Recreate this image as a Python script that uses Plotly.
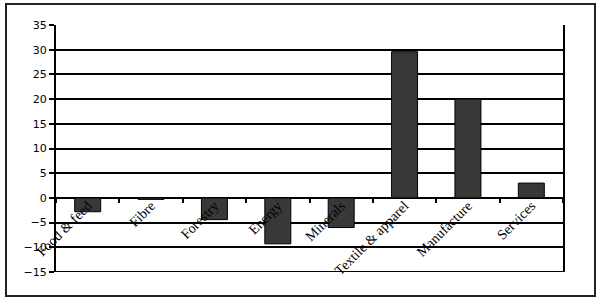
import plotly.graph_objects as go

categories = ["Food & feed", "Fibre", "Forestry", "Energy", "Minerals",
              "Textile & apparel", "Manufacture", "Services"]
values = [-2.8, -0.3, -4.4, -9.3, -6.0, 29.6, 20.0, 3.0]
y_ticks = [-15, -10, -5, 0, 5, 10, 15, 20, 25, 30, 35]

L, R, T, B = 56, 37, 25, 29
W, H = 600, 301
pw, ph = W - L - R, H - T - B

fig = go.Figure(go.Bar(
    x=categories, y=values, width=0.41,
    marker=dict(color="#383838", line=dict(color="black", width=1)),
))

fig.update_layout(
    width=W, height=H,
    margin=dict(l=L, r=R, t=T, b=B),
    paper_bgcolor="white", plot_bgcolor="white",
    showlegend=False,
    xaxis=dict(
        anchor="free", position=(0 - y_ticks[0]) / (y_ticks[-1] - y_ticks[0]),
        tickangle=-45, ticks="outside", ticklen=4, tickcolor="black", tickwidth=1.5,
        tickson="boundaries", showgrid=False, showline=False,
        ticklabelstandoff=-4,
        tickfont=dict(family="Liberation Serif", size=14, color="black"),
    ),
    yaxis=dict(
        range=[y_ticks[0], y_ticks[-1]], tickvals=y_ticks,
        ticks="outside", ticklen=5, tickcolor="black", tickwidth=1.5,
        showline=True, linecolor="black", linewidth=2, mirror=True,
        showgrid=True, gridcolor="black", gridwidth=2,
        zeroline=False,
        tickfont=dict(family="DejaVu Sans", size=11, color="black"),
    ),
    shapes=[
        dict(type="rect", xref="paper", yref="paper",
             x0=(6 - L) / pw, x1=(595 - L) / pw,
             y0=(H - B - 296) / ph, y1=(H - B - 4) / ph,
             line=dict(color="#222222", width=2)),
        dict(type="line", xref="paper", yref="y",
             x0=0, x1=1, y0=y_ticks[0], y1=y_ticks[0],
             line=dict(color="black", width=2)),
    ],
)

fig.write_html("out.html")
